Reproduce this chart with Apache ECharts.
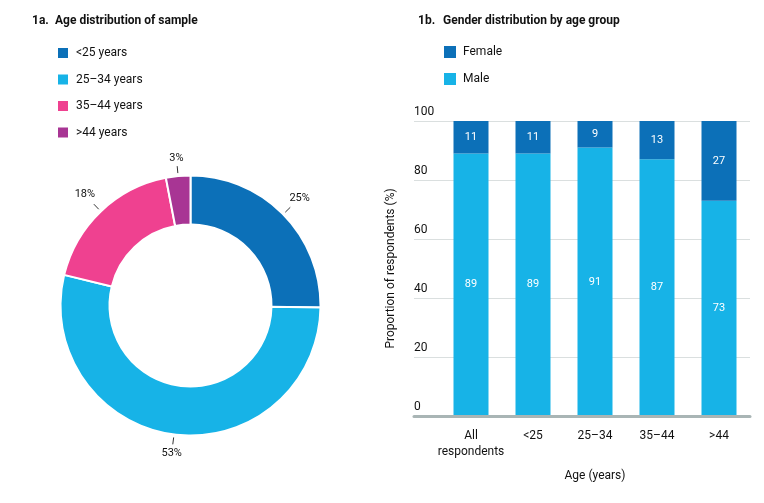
<!DOCTYPE html>
<html>
<head>
<meta charset="utf-8">
<script src="https://cdn.jsdelivr.net/npm/echarts@6/dist/echarts.min.js"></script>
<style>
  html, body { margin: 0; padding: 0; background: #fff; }
  #main { width: 764px; height: 503px; }
</style>
</head>
<body>
<div id="main"></div>
<script>
// 1a data
var ageGroups = ['<25 years', '25–34 years', '35–44 years', '>44 years'];
var agePct = [25, 53, 18, 3];
var ageColors = ['#0c70b8', '#17b3e7', '#ef4190', '#a83594'];

// 1b data
var barCats = ['All\nrespondents', '<25', '25–34', '35–44', '>44'];
var male = [89, 89, 91, 87, 73];
var female = [11, 11, 9, 13, 27];
var yTicks = [0, 20, 40, 60, 80, 100];

var FONT = 'Roboto';
var INK = '#111';

var chart = echarts.init(document.getElementById('main'));

// move each pie label out along its own label line
function radialLabel(p) {
  var pts = p.labelLinePoints;
  if (!pts) return {};
  var a = pts[0], b = pts[1];
  var dx = b[0] - a[0], dy = b[1] - a[1];
  var len = Math.sqrt(dx * dx + dy * dy) || 1;
  var ux = dx / len, uy = dy / len;
  var w = p.labelRect.width, h = p.labelRect.height;
  var d = Math.abs(ux) * w / 2 + Math.abs(uy) * h / 2 + 2;
  var s = [a[0] + ux * 3, a[1] + uy * 3];
  return {
    x: b[0] + ux * d,
    y: b[1] + uy * d,
    align: 'center',
    verticalAlign: 'middle',
    labelLinePoints: [s, b, b]
  };
}

var option = {
  animation: false,
  textStyle: { fontFamily: FONT, color: INK },
  title: [{
    left: 27, top: 10,
    text: '{n|1a.}Age distribution of sample',
    textStyle: {
      fontFamily: FONT, fontSize: 12, fontWeight: 'bold', color: INK,
      rich: { n: { width: 23, fontFamily: FONT, fontSize: 12, fontWeight: 'bold', color: INK } }
    }
  }, {
    left: 413, top: 10,
    text: '{n|1b.}Gender distribution by age group',
    textStyle: {
      fontFamily: FONT, fontSize: 12, fontWeight: 'bold', color: INK,
      rich: { n: { width: 25, fontFamily: FONT, fontSize: 12, fontWeight: 'bold', color: INK } }
    }
  }],
  legend: [{
    orient: 'vertical', left: 51, top: 41,
    itemWidth: 12, itemHeight: 12, itemGap: 12.5,
    icon: 'rect',
    data: ageGroups,
    selectedMode: false,
    textStyle: { fontFamily: FONT, fontSize: 12, color: INK, padding: [0, 0, 0, 2] }
  }, {
    orient: 'vertical', left: 439, top: 41,
    itemWidth: 12, itemHeight: 12, itemGap: 15,
    icon: 'rect',
    data: ['Female', 'Male'],
    selectedMode: false,
    textStyle: { fontFamily: FONT, fontSize: 12, color: INK, padding: [0, 0, 0, 2] }
  }],
  grid: [
    { left: 414, right: 14, top: 121, bottom: 87 },
    { left: 440, right: 14, top: 121, bottom: 87 }
  ],
  xAxis: [{
    gridIndex: 0, type: 'value', min: 0, max: 1, z: 5,
    axisLine: { show: true, lineStyle: { color: '#a9b5b5', width: 3 } },
    axisTick: { show: false }, axisLabel: { show: false }, splitLine: { show: false }
  }, {
    gridIndex: 1, type: 'category', data: barCats,
    axisLine: { show: false }, axisTick: { show: false },
    axisLabel: { interval: 0, color: INK, fontFamily: FONT, fontSize: 12, margin: 12, lineHeight: 16 },
    name: 'Age (years)', nameLocation: 'middle', nameGap: 54,
    nameTextStyle: { color: INK, fontFamily: FONT, fontSize: 12 }
  }],
  yAxis: [{
    gridIndex: 0, type: 'value', min: yTicks[0], max: yTicks[yTicks.length - 1], interval: 20,
    axisLine: { show: false }, axisTick: { show: false },
    splitLine: { lineStyle: { color: '#dadfdf', width: 1 } },
    axisLabel: {
      inside: true, margin: 0, verticalAlign: 'bottom', padding: [0, 0, 3, 0],
      color: INK, fontFamily: FONT, fontSize: 12
    },
    name: 'Proportion of respondents (%)', nameLocation: 'middle', nameRotate: 90, nameGap: 17,
    nameTextStyle: { color: INK, fontFamily: FONT, fontSize: 12 }
  }, {
    gridIndex: 1, type: 'value', min: 0, max: 100, show: false
  }],
  series: [{
    type: 'pie',
    center: [190.5, 305.5],
    radius: [81, 130],
    startAngle: 90,
    clockwise: true,
    avoidLabelOverlap: false,
    itemStyle: { borderColor: '#fff', borderWidth: 2 },
    label: {
      show: true, position: 'outside', formatter: '{c}%',
      color: INK, fontFamily: FONT, fontSize: 11
    },
    labelLine: { show: true, length: 10, length2: 0, lineStyle: { color: '#333', width: 1 } },
    labelLayout: radialLabel,
    emphasis: { disabled: true },
    data: ageGroups.map(function (n, i) {
      return { name: n, value: agePct[i], itemStyle: { color: ageColors[i] } };
    })
  }, {
    name: 'Male', type: 'bar', stack: 'g', xAxisIndex: 1, yAxisIndex: 1,
    barWidth: 35, data: male,
    itemStyle: { color: '#17b3e7' },
    label: { show: true, position: 'inside', color: '#fff', fontFamily: FONT, fontSize: 11 }
  }, {
    name: 'Female', type: 'bar', stack: 'g', xAxisIndex: 1, yAxisIndex: 1,
    barWidth: 35, data: female,
    itemStyle: { color: '#0c70b8' },
    label: { show: true, position: 'inside', color: '#fff', fontFamily: FONT, fontSize: 11 }
  }]
};

chart.setOption(option);
</script>
</body>
</html>
